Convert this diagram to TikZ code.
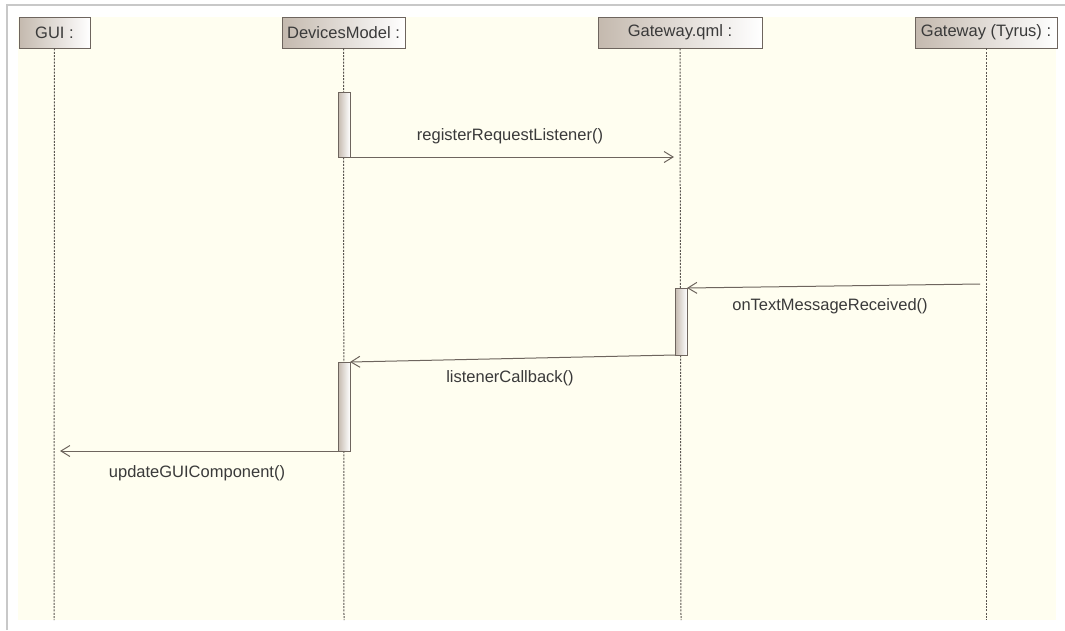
\documentclass[tikz,border=0pt]{standalone}
\usepackage{fontspec}
\setmainfont{Liberation Sans}
\usetikzlibrary{arrows.meta}
\definecolor{paper}{HTML}{FFFEF0}
\definecolor{frame}{HTML}{C8C8C8}
\definecolor{edge}{HTML}{6E655E}
\definecolor{dashline}{HTML}{5A5550}
\definecolor{headdark}{HTML}{C4B9AE}
\definecolor{ink}{HTML}{3A3A3A}
\tikzset{
  head/.style={draw=edge, line width=0.9pt, left color=headdark, right color=white,
    minimum height=31pt, inner sep=0pt, text=ink, font=\fontsize{16.5}{18}\selectfont},
  lifeline/.style={draw=dashline, line width=1pt, dash pattern=on 2pt off 1.3pt},
  actbar/.style={draw=edge, line width=0.9pt, left color=headdark, right color=white,
    minimum width=12pt, inner sep=0pt, outer sep=0pt},
  msg/.style={draw=edge, line width=1pt, -{Straight Barb[length=9pt,width=11pt,line width=1pt]}},
  lbl/.style={text=ink, font=\fontsize{16.5}{18}\selectfont, inner sep=0pt}
}
\begin{document}
\begin{tikzpicture}[x=1pt,y=-1pt]
  % canvas and frame
  \useasboundingbox (0,0) rectangle (1065,630);
  \fill[white] (0,0) rectangle (1065,630);
  \draw[frame, line width=1.2pt] (7,630) -- (7,5) -- (1065,5);
  \fill[paper] (18,17) rectangle (1056,620);

  % participant heads
  \node[head, minimum width=71pt]  (gui) at (54.5,32.5)  {GUI :};
  \node[head, minimum width=123pt] (dm)  at (343.5,32.5) {DevicesModel :};
  \node[head, minimum width=164pt] (gq)  at (680,32.5)   {Gateway.qml :};
  \node[head, minimum width=142pt] (gt)  at (986,32.5)   {Gateway (Tyrus) :};

  % lifeline ends
  \coordinate (guiEnd) at (54,620);
  \coordinate (dmEnd)  at (344,620);
  \coordinate (gqEnd)  at (681,620);
  \coordinate (gtEnd)  at (986,620);
  \draw[lifeline] (gui.south) -- (guiEnd);
  \draw[lifeline] (dm.south)  -- (dmEnd);
  \draw[lifeline] (gq.south)  -- (gqEnd);
  \draw[lifeline] (gt.south)  -- (gtEnd);

  % activation bars
  \node[actbar, minimum height=65pt, anchor=north] (actA) at (344,92)  {};
  \node[actbar, minimum height=67pt, anchor=north] (actB) at (681,288) {};
  \node[actbar, minimum height=89pt, anchor=north] (actC) at (344,362) {};

  % message end points
  \coordinate (m1end) at (674,157);
  \coordinate (m2start) at (980,284);
  \coordinate (m4end) at (60,451);

  % messages
  \draw[msg] (actA.south east) -- (m1end);
  \node[lbl] (m1lbl) at (510,136) {registerRequestListener()};

  \draw[msg] (m2start) -- (actB.north east);
  \node[lbl] (m2lbl) at (830,306) {onTextMessageReceived()};

  \draw[msg] (actB.south west) -- (actC.north east);
  \node[lbl] (m3lbl) at (510,378) {listenerCallback()};

  \draw[msg] (actC.south west) -- (m4end);
  \node[lbl] (m4lbl) at (197,473) {updateGUIComponent()};
\end{tikzpicture}
\end{document}
